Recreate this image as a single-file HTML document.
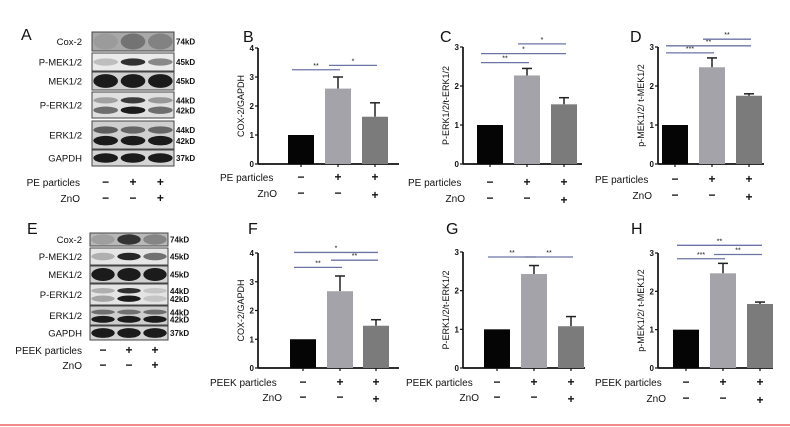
<!DOCTYPE html>
<html><head><meta charset="utf-8">
<style>
html,body{margin:0;padding:0;background:#fff;}
svg{display:block;font-family:"Liberation Sans",Arial,sans-serif;}
</style></head>
<body>
<svg id="fig" width="790" height="427" viewBox="0 0 790 427" xmlns="http://www.w3.org/2000/svg"></svg>
<script>
// ---- data ----
const groupLabels = ["control", "particles", "particles+ZnO"];
const valuesB = [1.0, 2.6, 1.63];
const errorsB = [0, 0.4, 0.48];
const valuesC = [1.0, 2.27, 1.53];
const errorsC = [0, 0.18, 0.17];
const valuesD = [1.0, 2.48, 1.75];
const errorsD = [0, 0.24, 0.05];
const valuesF = [1.0, 2.67, 1.47];
const errorsF = [0, 0.53, 0.21];
const valuesG = [1.0, 2.43, 1.08];
const errorsG = [0, 0.22, 0.25];
const valuesH = [1.0, 2.47, 1.67];
const errorsH = [0, 0.26, 0.05];
const ticks4 = ["0", "1", "2", "3", "4"];
const ticks3 = ["0", "1", "2", "3"];
const sigB = [[0, 1, 3.25, "**"], [1, 2, 3.4, "*"]];
const sigC = [[0, 1, 2.6, "**"], [0, 2, 2.83, "*"], [1, 2, 3.08, "*"]];
const sigD = [[0, 1, 2.85, "***"], [0, 2, 3.03, "**"], [1, 2, 3.2, "**"]];
const sigF = [[0, 1, 3.5, "**"], [1, 2, 3.75, "**"], [0, 2, 4.02, "*"]];
const sigG = [[0, 1, 2.87, "**"], [1, 2, 2.87, "**"]];
const sigH = [[0, 1, 2.85, "***"], [1, 2, 2.96, "**"], [0, 2, 3.2, "**"]];
const pePlus = ["−", "+", "+"];
const znoPlus = ["−", "−", "+"];

const NS = "http://www.w3.org/2000/svg";
const svg = document.getElementById("fig");
function el(tag, attrs, parent) {
  const e = document.createElementNS(NS, tag);
  for (const k in attrs) e.setAttribute(k, attrs[k]);
  (parent || svg).appendChild(e);
  return e;
}
function txt(x, y, s, size, anchor, weight, parent) {
  const t = el("text", {x: x, y: y, "font-size": size, "text-anchor": anchor || "start", "font-weight": weight || "normal", fill: "#111"}, parent);
  t.textContent = s;
  return t;
}
const barColors = ["#050505", "#a3a3a9", "#7b7b7b"];

function chart(p) {
  const g = el("g", {});
  
  
  const vmax = p.ticks.length - 1;
  const ppu = (p.y0 - p.yTop) / vmax;
  const yS = v => p.y0 - v * ppu;
  const ya = el("line", {x1: p.ax, y1: p.yTop, x2: p.ax, y2: p.y0, stroke: "#111", "stroke-width": 1.7}, g);
  
  
  p.ticks.forEach((t, i) => {
    el("line", {x1: p.ax - 3, y1: yS(i), x2: p.ax, y2: yS(i), stroke: "#111", "stroke-width": 1.2}, g);
    const tl = txt(p.ax - 4, yS(i) + 3, t, 8, "end", "bold", g);
    
    
  });
  const xa = el("line", {x1: p.ax, y1: p.y0, x2: p.xEnd, y2: p.y0, stroke: "#111", "stroke-width": 1.7}, g);
  
  
  const centers = [];
  p.values.forEach((v, i) => {
    const x = p.bx[i];
    const c = x + p.bw / 2;
    centers.push(c);
    const err = p.errors[i];
    if (err > 0) {
      el("line", {x1: c, y1: yS(v), x2: c, y2: yS(v + err), stroke: "#222", "stroke-width": 1.5}, g);
      el("line", {x1: c - 5, y1: yS(v + err), x2: c + 5, y2: yS(v + err), stroke: "#222", "stroke-width": 1.5}, g);
    }
    const r = el("rect", {x: x, y: yS(v), width: p.bw, height: p.y0 - yS(v), fill: barColors[i]}, g);
    
    
    el("line", {x1: c, y1: p.y0, x2: c, y2: p.y0 + 3, stroke: "#111", "stroke-width": 1.2}, g);
  });
  p.sig.forEach(s => {
    const y = yS(s[2]);
    const l = el("line", {x1: centers[s[0]] - 9, y1: y, x2: centers[s[1]] + 2, y2: y, stroke: "#6e73a6", "stroke-width": 1.3}, g);
    
    
    txt((centers[s[0]] - 9 + centers[s[1]] + 2) / 2, y - 2, s[3], 7, "middle", "normal", g);
  });
  const at = txt(0, 0, p.ytitle, 9, "middle", "normal", g);
  at.setAttribute("transform", "translate(" + (p.ax - 14) + "," + ((p.y0 + p.yTop) / 2) + ") rotate(-90)");
  
  
  const pl = txt(p.lx, p.ly1, p.plabel, 10, "start", "normal", g);
  
  
  const zl = txt(p.zx, p.ly2, "ZnO", 10, "end", "normal", g);
  
  
  centers.forEach((c, i) => {
    txt(c, p.ly1, pePlus[i], 12, "middle", "bold", g);
    txt(c, p.ly2 + (i == 2 ? 2 : 0), znoPlus[i], 12, "middle", "bold", g);
  });
  const L = txt(p.letX, p.letY, p.id, 16, "start", "normal", g);
  
  
}

chart({id: "B", ax: 258, yTop: 48, y0: 164, xEnd: 399, bx: [288, 325, 362], bw: 26, values: valuesB, errors: errorsB, ticks: ticks4, sig: sigB, ytitle: "COX-2/GAPDH", plabel: "PE particles", lx: 220, ly1: 181, zx: 277, ly2: 197, letX: 243, letY: 42});
chart({id: "C", ax: 463, yTop: 47, y0: 164, xEnd: 582, bx: [477, 514, 551], bw: 26, values: valuesC, errors: errorsC, ticks: ticks3, sig: sigC, ytitle: "P-ERK1/2/t-ERK1/2", plabel: "PE particles", lx: 408, ly1: 186, zx: 465, ly2: 202, letX: 440, letY: 42});
chart({id: "D", ax: 658, yTop: 47, y0: 164, xEnd: 764, bx: [662, 699, 736], bw: 26, values: valuesD, errors: errorsD, ticks: ticks3, sig: sigD, ytitle: "p-MEK1/2/ t-MEK1/2", plabel: "PE particles", lx: 595, ly1: 183, zx: 652, ly2: 199, letX: 630, letY: 42});
chart({id: "F", ax: 258, yTop: 253, y0: 368, xEnd: 399, bx: [290, 327, 363], bw: 26, values: valuesF, errors: errorsF, ticks: ticks4, sig: sigF, ytitle: "COX-2/GAPDH", plabel: "PEEK particles", lx: 210, ly1: 386, zx: 282, ly2: 401, letX: 248, letY: 234});
chart({id: "G", ax: 463, yTop: 252, y0: 368, xEnd: 585, bx: [484, 521, 558], bw: 26, values: valuesG, errors: errorsG, ticks: ticks3, sig: sigG, ytitle: "P-ERK1/2/t-ERK1/2", plabel: "PEEK particles", lx: 406, ly1: 386, zx: 479, ly2: 401, letX: 446, letY: 234});
chart({id: "H", ax: 658, yTop: 253, y0: 368, xEnd: 773, bx: [673, 710, 747], bw: 26, values: valuesH, errors: errorsH, ticks: ticks3, sig: sigH, ytitle: "p-MEK1/2/ t-MEK1/2", plabel: "PEEK particles", lx: 595, ly1: 386, zx: 666, ly2: 402, letX: 631, letY: 234});

// ---- western blots ----
function blot(b) {
  const g = el("g", {});
  
  
  const w = b.x1 - b.x0;
  const lane = w / 3;
  b.rows.forEach(r => {
    const h = r.y1 - r.y0;
    el("rect", {x: b.x0, y: r.y0, width: w, height: h, fill: r.bg, stroke: "#444", "stroke-width": 1}, g);
    r.bands.forEach(bd => {
      for (let i = 0; i < 3; i++) {
        const c = b.x0 + lane * (i + 0.5);
        el("ellipse", {cx: c, cy: r.y0 + h * bd.pos, rx: lane * 0.45, ry: h * bd.ry, fill: "#111", opacity: bd.op[i]}, g);
      }
    });
    const nl = txt(b.lblX, r.y0 + h / 2 + 3.5, r.name, 9.5, "end", "normal", g);
    
    
    r.kd.forEach((k, j) => {
      const yy = r.kd.length == 1 ? r.y0 + h / 2 + 3 : r.y0 + h * (j == 0 ? 0.33 : 0.72) + 3;
      txt(b.x1 + 2, yy, k, 8, "start", "bold", g);
    });
  });
  const c = [0, 1, 2].map(i => b.x0 + lane * (i + 0.5));
  txt(b.plX, b.ly1, b.plabel, 10, "end", "normal", g);
  txt(b.plX, b.ly2, "ZnO", 10, "end", "normal", g);
  c.forEach((cx, i) => {
    txt(cx, b.ly1, pePlus[i], 12, "middle", "bold", g);
    txt(cx, b.ly2, znoPlus[i], 12, "middle", "bold", g);
  });
  const L = txt(b.letX, b.letY, b.id, 16, "start", "normal", g);
  
  
}
blot({id: "A", x0: 92, x1: 174, lblX: 82, plabel: "PE particles", plX: 80, ly1: 186, ly2: 202, letX: 21, letY: 40, rows: [
  {name: "Cox-2", y0: 32, y1: 51, bg: "#a8a8a8", kd: ["74kD"], bands: [{pos: 0.5, ry: 0.42, op: [0.08, 0.35, 0.25]}]},
  {name: "P-MEK1/2", y0: 53, y1: 71, bg: "#eaeaea", kd: ["45kD"], bands: [{pos: 0.5, ry: 0.2, op: [0.2, 0.85, 0.45]}]},
  {name: "MEK1/2", y0: 72, y1: 90, bg: "#d0d0d0", kd: ["45kD"], bands: [{pos: 0.5, ry: 0.38, op: [0.95, 0.95, 0.95]}]},
  {name: "P-ERK1/2", y0: 92, y1: 118, bg: "#e0e0e0", kd: ["44kD", "42kD"], bands: [{pos: 0.32, ry: 0.12, op: [0.3, 0.8, 0.35]}, {pos: 0.7, ry: 0.14, op: [0.55, 0.95, 0.55]}]},
  {name: "ERK1/2", y0: 121, y1: 149, bg: "#cfcfcf", kd: ["44kD", "42kD"], bands: [{pos: 0.32, ry: 0.13, op: [0.6, 0.55, 0.55]}, {pos: 0.7, ry: 0.17, op: [0.95, 0.95, 0.95]}]},
  {name: "GAPDH", y0: 150, y1: 166, bg: "#d4d4d4", kd: ["37kD"], bands: [{pos: 0.5, ry: 0.3, op: [0.95, 0.95, 0.95]}]}
]});
blot({id: "E", x0: 90, x1: 168, lblX: 82, plabel: "PEEK particles", plX: 82, ly1: 354, ly2: 369, letX: 27, letY: 234, rows: [
  {name: "Cox-2", y0: 233, y1: 246, bg: "#b8b8b8", kd: ["74kD"], bands: [{pos: 0.5, ry: 0.4, op: [0.15, 0.8, 0.3]}]},
  {name: "P-MEK1/2", y0: 248, y1: 265, bg: "#e6e6e6", kd: ["45kD"], bands: [{pos: 0.5, ry: 0.22, op: [0.25, 0.9, 0.55]}]},
  {name: "MEK1/2", y0: 266, y1: 283, bg: "#d0d0d0", kd: ["45kD"], bands: [{pos: 0.5, ry: 0.38, op: [0.95, 0.95, 0.95]}]},
  {name: "P-ERK1/2", y0: 284, y1: 305, bg: "#e4e4e4", kd: ["44kD", "42kD"], bands: [{pos: 0.32, ry: 0.13, op: [0.25, 0.85, 0.15]}, {pos: 0.7, ry: 0.15, op: [0.3, 0.95, 0.15]}]},
  {name: "ERK1/2", y0: 306, y1: 325, bg: "#cdcdcd", kd: ["44kD", "42kD"], bands: [{pos: 0.32, ry: 0.13, op: [0.5, 0.5, 0.5]}, {pos: 0.7, ry: 0.18, op: [0.95, 0.95, 0.95]}]},
  {name: "GAPDH", y0: 326, y1: 340, bg: "#d4d4d4", kd: ["37kD"], bands: [{pos: 0.5, ry: 0.35, op: [0.95, 0.95, 0.95]}]}
]});

const rl = el("line", {x1: 0, y1: 425, x2: 790, y2: 425, stroke: "#f28a8a", "stroke-width": 2});


</script>
</body></html>
